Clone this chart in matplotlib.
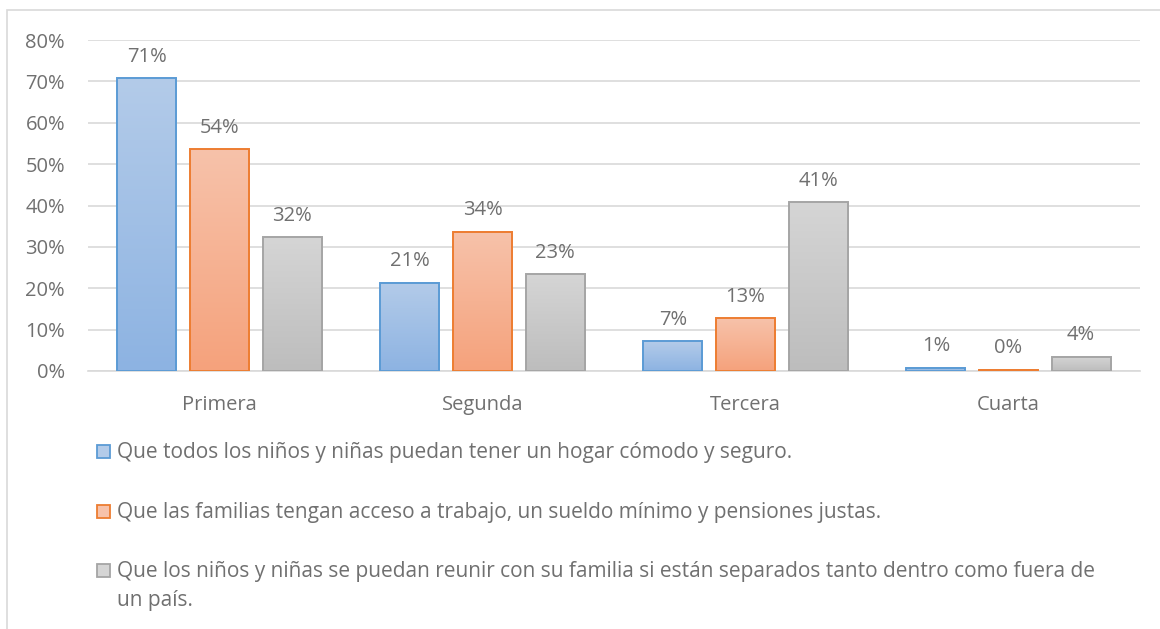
import numpy as np
import matplotlib.pyplot as plt
from matplotlib.patches import Rectangle
from matplotlib.colors import LinearSegmentedColormap

categories = ['Primera', 'Segunda', 'Tercera', 'Cuarta']
series_names = [
    'Que todos los niños y niñas puedan tener un hogar cómodo y seguro.',
    'Que las familias tengan acceso a trabajo, un sueldo mínimo y pensiones justas.',
    'Que los niños y niñas se puedan reunir con su familia si están separados tanto dentro como fuera de\nun país.',
]
hogar = [70.8, 21.3, 7.2, 0.8]
trabajo = [53.6, 33.6, 12.8, 0.3]
familia = [32.3, 23.4, 40.8, 3.5]
y_ticks = [0, 10, 20, 30, 40, 50, 60, 70, 80]

edge_colors = ['#5b9bd5', '#ed7d31', '#a5a5a5']
top_colors = ['#b3cbe9', '#f7c2aa', '#d5d5d5']
bottom_colors = ['#8db3e2', '#f5a27c', '#bdbdbd']
text_color = '#707070'

plt.rcParams['font.family'] = ['Open Sans', 'DejaVu Sans']

W, H = 1160, 629
fig = plt.figure(figsize=(W / 100, H / 100), dpi=100)
ax = fig.add_axes([88 / W, 1 - 371 / H, 1052 / W, 331 / H])


def px(x, y):
    # pixel position -> figure fraction
    return x / W, 1 - y / H


# outer chart frame (only top and left edges fall inside the canvas)
fig.patches.append(Rectangle((7 / W, -0.1), 1.2, 1 - 10 / H + 0.1,
                             transform=fig.transFigure, fill=False,
                             edgecolor='#d9d9d9', linewidth=1.2))

x = np.arange(len(categories))
width = 0.225
offsets = [-0.276, 0, 0.276]
all_series = [hogar, trabajo, familia]

for i, values in enumerate(all_series):
    bars = ax.bar(x + offsets[i], values, width, color='none',
                  edgecolor=edge_colors[i], linewidth=1.4, zorder=3)
    cmap = LinearSegmentedColormap.from_list('g', [bottom_colors[i], top_colors[i]])
    grad = np.linspace(0, 1, 100).reshape(-1, 1)
    for b, v in zip(bars, values):
        bx, bw, bh = b.get_x(), b.get_width(), b.get_height()
        ax.imshow(grad, cmap=cmap, origin='lower', aspect='auto',
                  extent=[bx, bx + bw, 0, bh], zorder=2)
        ax.text(bx + bw / 2, bh + 5.2, f'{v:.0f}%', ha='center', va='center',
                fontsize=14.5, color=text_color)

ax.set_xlim(-0.5, 3.5)
ax.set_ylim(0, 80)
ax.set_yticks(y_ticks)
ax.set_yticklabels([f'{t}%' for t in y_ticks])
ax.set_xticks(x)
ax.set_xticklabels(categories)
ax.tick_params(axis='both', length=0, labelsize=14.5, labelcolor=text_color)
ax.tick_params(axis='x', pad=17)
ax.tick_params(axis='y', pad=16.5)
ax.grid(axis='y', color='#d9d9d9', linewidth=1.2, zorder=0)
for s in ['top', 'right', 'left']:
    ax.spines[s].set_visible(False)
ax.spines['bottom'].set_color('#d9d9d9')
ax.spines['bottom'].set_linewidth(1.2)

# legend, one entry per row under the plot; wrapped lines drawn one by one
baselines = [458, 518, 577]
line_step = 29
for name, fc, ec, yb in zip(series_names, top_colors, edge_colors, baselines):
    sx, sy = px(97, yb)
    fig.patches.append(Rectangle((sx, sy), 13 / W, 13 / H, transform=fig.transFigure,
                                 facecolor=fc, edgecolor=ec, linewidth=1.3))
    for k, line in enumerate(name.split('\n')):
        tx, ty = px(117, yb + k * line_step)
        fig.text(tx, ty, line, ha='left', va='baseline', fontsize=15,
                 color=text_color)

fig.savefig('out.png', dpi=100, facecolor='white')
